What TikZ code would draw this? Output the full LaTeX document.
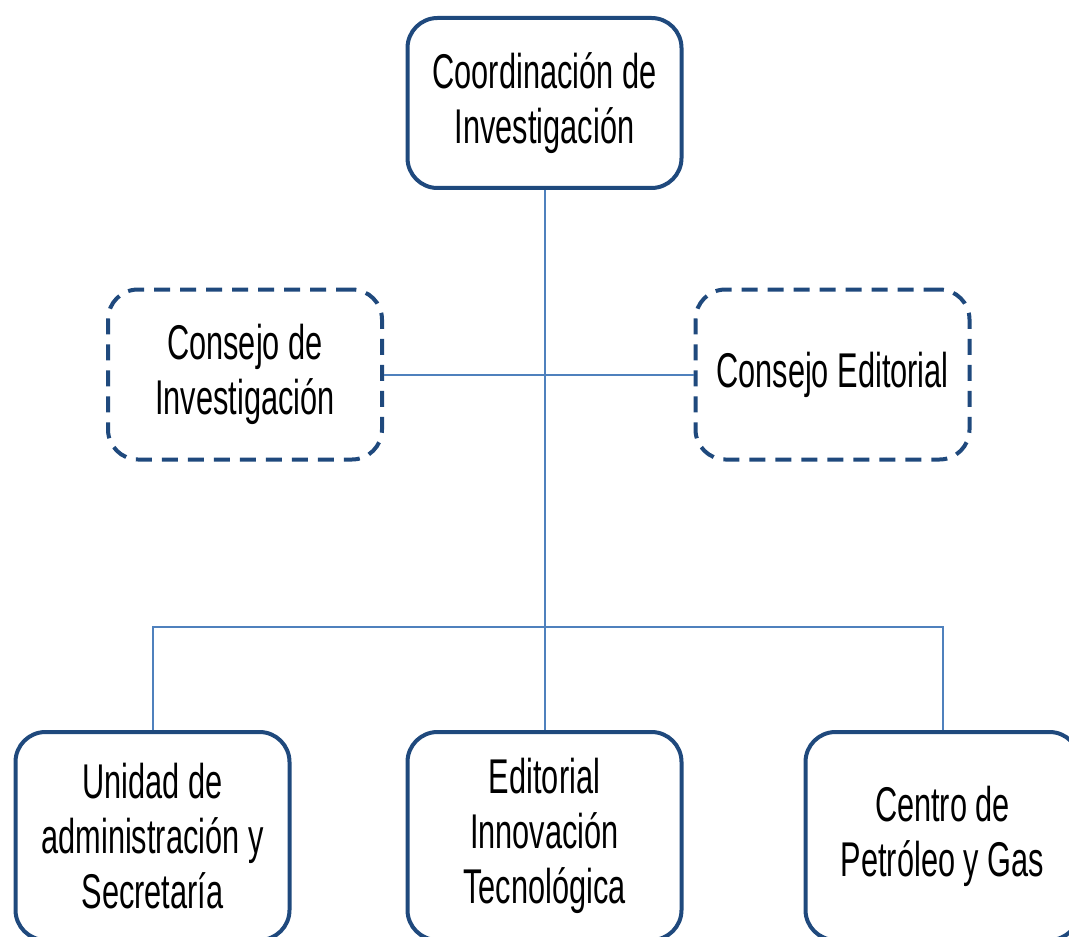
\documentclass[tikz,border=0pt]{standalone}
\usepackage{fontspec}
\setmainfont{Liberation Sans}[FakeStretch=0.63]
\usetikzlibrary{positioning,calc}
\definecolor{boxblue}{RGB}{31,73,125}
\definecolor{lineblue}{RGB}{79,129,189}
\tikzset{
    unitbox/.style={draw=boxblue, line width=2pt, rounded corners=15pt, fill=white,
        minimum width=137pt, minimum height=85pt, align=center, inner sep=0pt,
        font=\fontsize{24.4}{27.5}\selectfont},
    councilbox/.style={unitbox, dash pattern=on 8pt off 5pt},
    lowbox/.style={unitbox, minimum height=104pt},
    link/.style={draw=lineblue, line width=1pt}
}

\begin{document}
\begin{tikzpicture}[x=0.5pt, y=-0.5pt]
                \useasboundingbox (0,0) rectangle (1069,936);
                \clip (0,0) rectangle (1069,936);

                % Top
                \node[unitbox] (coord) at (544.5, 103) {Coordinación de\\Investigación};

                % Councils
                \node[councilbox] (cinv) at (245, 374.5) {Consejo de\\Investigación};
                \node[councilbox] (cedit) at (832.5, 374.5) {Consejo Editorial};

                % Units
                \node[lowbox] (unidad) at (152.5, 836) {Unidad de\\administración y\\Secretaría};
                \node[lowbox] (editorial) at (544.5, 836) {Editorial\\Innovación\\Tecnológica};
                \node[lowbox] (centro) at (942.5, 836) {Centro de\\Petróleo y Gas};

                % Connectors
                \coordinate (bus) at (544.5, 627);
                \draw[link] (coord.south) -- (editorial.north);
                \draw[link] (cinv.east) -- (cedit.west);
                \draw[link] (unidad.north) |- (bus) -| (centro.north);
            \end{tikzpicture}
\end{document}
